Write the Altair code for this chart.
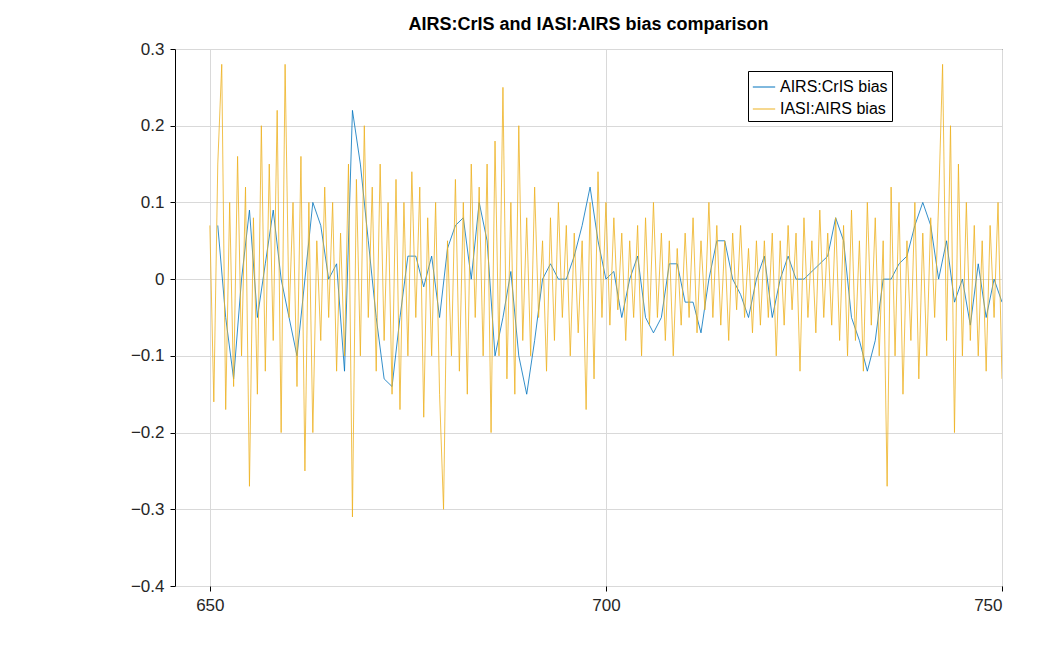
import altair as alt
import pandas as pd

# AIRS:CrIS bias at 1 cm-1 steps
cris_x = list(range(651, 751))
cris_y = [0.07, -0.05, -0.13, 0.0, 0.09, -0.05, 0.02, 0.09, 0.0, -0.05,
          -0.1, 0.0, 0.1, 0.07, 0.0, 0.02, -0.12, 0.22, 0.15, 0.05,
          -0.05, -0.13, -0.14, -0.05, 0.03, 0.03, -0.01, 0.03, -0.05, 0.04,
          0.07, 0.08, 0.0, 0.1, 0.05, -0.1, -0.05, 0.01, -0.1, -0.15,
          -0.08, 0.0, 0.02, 0.0, 0.0, 0.03, 0.07, 0.12, 0.05, 0.0,
          0.01, -0.05, 0.0, 0.03, -0.05, -0.07, -0.05, 0.02, 0.02, -0.03,
          -0.03, -0.07, 0.0, 0.05, 0.05, 0.0, -0.02, -0.05, 0.0, 0.03,
          -0.05, 0.0, 0.03, 0.0, 0.0, 0.01, 0.02, 0.03, 0.08, 0.05,
          -0.05, -0.08, -0.12, -0.08, 0.0, 0.0, 0.02, 0.03, 0.07, 0.1,
          0.07, 0.0, 0.05, -0.03, 0.0, -0.06, 0.02, -0.05, 0.0, -0.03]

# IASI:AIRS bias at 0.5 cm-1 steps from 650
iasi_x = [650 + 0.5 * i for i in range(201)]
iasi_y = [0.07, -0.16, 0.15, 0.28, -0.17, 0.1, -0.14, 0.16, -0.1, 0.12, -0.27, 0.08, -0.15, 0.2, -0.12, 0.15, -0.08, 0.22, -0.2, 0.28,
          -0.05, 0.1, -0.14, 0.16, -0.25, 0.1, -0.2, 0.05, -0.08, 0.12, -0.05, 0.1, -0.12, 0.06, -0.1, 0.15, -0.31, 0.13, -0.1, 0.2,
          -0.05, 0.12, -0.12, 0.15, -0.08, 0.1, -0.15, 0.13, -0.17, 0.1, -0.1, 0.14, -0.05, 0.12, -0.18, 0.08, -0.1, 0.1, -0.15, -0.3,
          0.05, -0.1, 0.13, -0.12, 0.1, -0.15, 0.15, -0.05, 0.12, -0.1, 0.15, -0.2, 0.18, -0.1, 0.25, -0.13, 0.1, -0.15, 0.2, -0.08,
          0.08, -0.1, 0.12, -0.05, 0.05, -0.12, 0.08, -0.08, 0.1, -0.05, 0.07, -0.1, 0.06, -0.07, 0.05, -0.17, 0.1, -0.13, 0.14, -0.05,
          0.1, -0.06, 0.08, -0.04, 0.06, -0.08, 0.05, -0.05, 0.07, -0.1, 0.08, -0.06, 0.1, -0.05, 0.06, -0.08, 0.05, -0.1, 0.04, -0.06,
          0.06, -0.05, 0.08, -0.07, 0.05, -0.04, 0.1, -0.05, 0.07, -0.06, 0.05, -0.08, 0.06, -0.04, 0.07, -0.05, 0.04, -0.07, 0.05, -0.06,
          0.05, -0.05, 0.06, -0.1, 0.05, -0.06, 0.07, -0.04, 0.06, -0.12, 0.08, -0.05, 0.05, -0.07, 0.09, -0.05, 0.06, -0.06, 0.08, -0.08,
          0.07, -0.1, 0.09, -0.08, 0.05, -0.12, 0.1, -0.06, 0.08, -0.1, 0.05, -0.27, 0.12, -0.1, 0.1, -0.15, 0.05, -0.08, 0.1, -0.13,
          0.06, -0.1, 0.08, -0.05, 0.1, 0.28, -0.08, 0.2, -0.2, 0.15, -0.1, 0.1, -0.08, 0.07, -0.1, 0.05, -0.12, 0.07, -0.05, 0.1,
          -0.13]

df = pd.concat([
    pd.DataFrame({"wn": cris_x, "bias": cris_y, "series": "AIRS:CrIS bias", "o": 0}),
    pd.DataFrame({"wn": iasi_x, "bias": iasi_y, "series": "IASI:AIRS bias", "o": 1}),
])

font = "Liberation Sans"
chart = alt.Chart(df).mark_line(strokeWidth=0.8, clip=True).encode(
    x=alt.X("wn:Q", title=None,
            scale=alt.Scale(domain=[645.6, 750], nice=False, zero=False),
            axis=alt.Axis(values=[650, 700, 750], format="d")),
    y=alt.Y("bias:Q", title=None,
            scale=alt.Scale(domain=[-0.4, 0.3], nice=False),
            axis=alt.Axis(values=[-0.4, -0.3, -0.2, -0.1, 0, 0.1, 0.2, 0.3],
                          labelExpr="datum.value == 0 ? '0' : format(datum.value, '.1f')")),
    color=alt.Color("series:N", title=None,
                    scale=alt.Scale(domain=["AIRS:CrIS bias", "IASI:AIRS bias"],
                                    range=["#0072BD", "#EDB120"]),
                    legend=alt.Legend(orient="none", legendX=573, legendY=22,
                                      symbolType="stroke", symbolSize=500,
                                      symbolStrokeWidth=1,
                                      labelFontSize=16, labelFont=font,
                                      strokeColor="black", fillColor="white",
                                      padding=4, rowPadding=2)),
    order="o:Q",
).properties(
    width=827, height=537,
    title=alt.TitleParams("AIRS:CrIS and IASI:AIRS bias comparison",
                          fontSize=18, font=font, fontWeight="bold", offset=6),
    padding={"left": 122, "top": 8, "right": 20, "bottom": 10},
).configure_view(
    stroke="black", strokeWidth=1
).configure_axis(
    grid=True, gridColor="#d9d9d9", domain=False,
    tickColor="black", tickSize=5,
    labelFont=font, labelFontSize=17, labelColor="#262626", labelPadding=6,
)

chart.save("out.html", embed_options={"renderer": "svg", "actions": False})
